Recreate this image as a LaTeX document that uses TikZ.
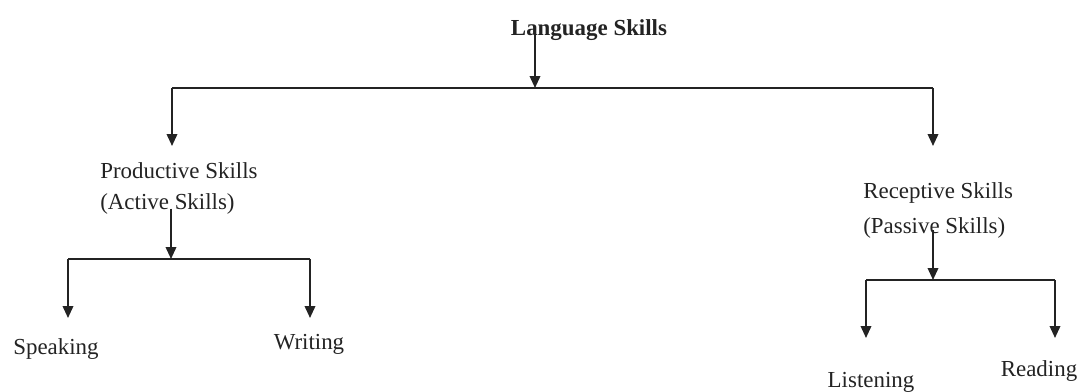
\documentclass[tikz,border=0pt]{standalone}
\usepackage{fontspec}
\setmainfont{Liberation Serif}
\usetikzlibrary{arrows.meta, positioning}
\definecolor{InkGray}{RGB}{35, 35, 35}

\begin{document}
\begin{tikzpicture}[
        x=0.025cm, y=-0.025cm,
        lbl/.style={text=InkGray, inner sep=0pt, font=\fontsize{16.3}{22}\selectfont, align=left},
        arr/.style={draw=InkGray, line width=1.3pt, -{Triangle[length=8.5pt, width=7.5pt]}},
        link/.style={draw=InkGray, line width=1.3pt}
    ]
    \useasboundingbox (0,0) rectangle (1086,392);

    % labels
    \node[lbl, anchor=base, font=\fontsize{16.3}{22}\selectfont\bfseries] (lang) at (589,36) {Language Skills};
    \node[lbl, anchor=north west] (prod) at (100,162) {Productive Skills\\(Active Skills)};
    \node[lbl, anchor=north west] (rec) at (863,182) {Receptive Skills\\[3pt](Passive Skills)};
    \node[lbl, anchor=base] (spk) at (56,355) {Speaking};
    \node[lbl, anchor=base] (wrt) at (309,350) {Writing};
    \node[lbl, anchor=base] (lis) at (871,388) {Listening};
    \node[lbl, anchor=base] (rea) at (1039,377) {Reading};

    % branch points
    \coordinate (top) at (535,88);
    \coordinate (topl) at (172,88);
    \coordinate (topr) at (933,88);
    \coordinate (prodj) at (171,259);
    \coordinate (prodl) at (68,259);
    \coordinate (prodr) at (310,259);
    \coordinate (recj) at (933,280);
    \coordinate (recl) at (866,280);
    \coordinate (recr) at (1055,280);

    % arrow ends
    \coordinate (prodtip) at (172,146);
    \coordinate (rectip) at (933,146);
    \coordinate (spktip) at (68,318);
    \coordinate (wrttip) at (310,318);
    \coordinate (listip) at (866,338);
    \coordinate (reatip) at (1055,338);

    % connectors
    \draw[arr] ([yshift=1pt]lang.center -| top) -- (top);
    \draw[link] (topl) -- (topr);
    \draw[arr] (topl) -- (prodtip);
    \draw[arr] (topr) -- (rectip);

    \draw[arr] ([yshift=4pt]prod.south -| prodj) -- (prodj);
    \draw[link] (prodl) -- (prodr);
    \draw[arr] (prodl) -- (spktip);
    \draw[arr] (prodr) -- (wrttip);

    \draw[arr] ([yshift=6pt]rec.south -| recj) -- (recj);
    \draw[link] (recl) -- (recr);
    \draw[arr] (recl) -- (listip);
    \draw[arr] (recr) -- (reatip);
\end{tikzpicture}
\end{document}
